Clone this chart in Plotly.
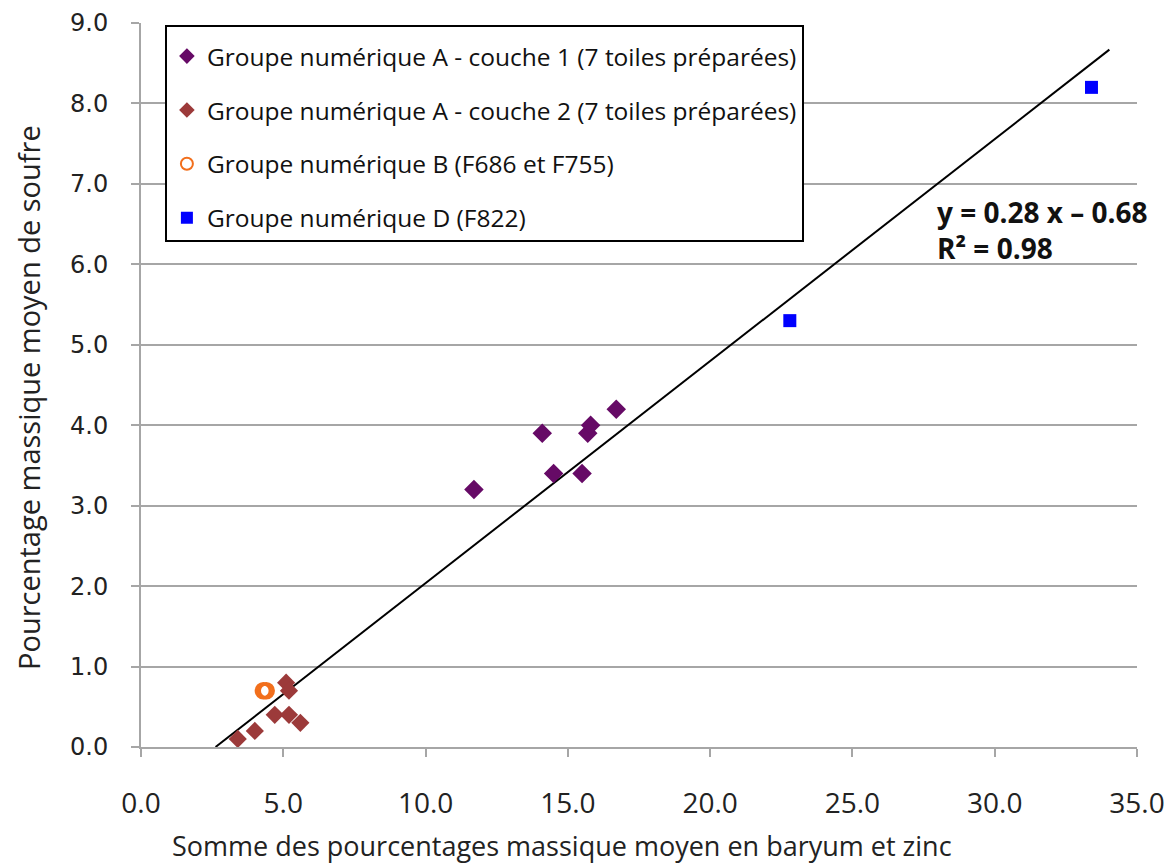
import plotly.graph_objects as go

# ---- data ----
a1_x = [11.7, 14.1, 14.5, 15.5, 15.7, 15.8, 16.7]
a1_y = [3.2, 3.9, 3.4, 3.4, 3.9, 4.0, 4.2]
a2_x = [3.4, 4.0, 4.7, 5.2, 5.6, 5.1, 5.2]
a2_y = [0.1, 0.2, 0.4, 0.4, 0.3, 0.8, 0.7]
b_x = [4.3, 4.4]
b_y = [0.7, 0.7]
d_x = [22.8, 33.4]
d_y = [5.3, 8.2]

trend_slope = 0.276
trend_intercept = -0.723
trend_x = [2.62, 34.03]
trend_y = [trend_slope * v + trend_intercept for v in trend_x]

names = [
    "Groupe numérique A - couche 1 (7 toiles préparées)",
    "Groupe numérique A - couche 2 (7 toiles préparées)",
    "Groupe numérique B (F686 et F755)",
    "Groupe numérique D (F822)",
]
eq_text = "<b>y = 0.28 x – 0.68</b><br><b>R² = 0.98</b>"
x_title = "Somme des pourcentages massique moyen en baryum et zinc"
y_title = "Pourcentage massique moyen de soufre"
x_ticks = [0, 5, 10, 15, 20, 25, 30, 35]
x_ticktext = ["0.0", "5.0", "10.0", "15.0", "20.0", "25.0", "30.0", "35.0"]
y_ticks = list(range(10))
y_ticktext = ["0.0", "1.0", "2.0", "3.0", "4.0", "5.0", "6.0", "7.0", "8.0", "9.0"]

FONT = "Open Sans"

fig = go.Figure()
fig.add_trace(go.Scatter(x=trend_x, y=trend_y, mode="lines",
                         line=dict(color="black", width=2), showlegend=False,
                         hoverinfo="skip"))
fig.add_trace(go.Scatter(x=a1_x, y=a1_y, mode="markers", name=names[0], legendgroup="g1",
                         marker=dict(symbol="diamond", size=15, color="#660a66")))
fig.add_trace(go.Scatter(x=a2_x, y=a2_y, mode="markers", name=names[1], legendgroup="g2",
                         marker=dict(symbol="diamond", size=14, color="#9c3a3a")))
fig.add_trace(go.Scatter(x=b_x, y=b_y, mode="markers", name=names[2], legendgroup="g3",
                         marker=dict(symbol="circle-open", size=14, color="#f26f1c",
                                     line=dict(width=3.5, color="#f26f1c"))))
fig.add_trace(go.Scatter(x=d_x, y=d_y, mode="markers", name=names[3], legendgroup="g4",
                         marker=dict(symbol="square", size=13, color="#0000ff")))

fig.add_annotation(x=27.9, y=6.43, xref="x", yref="y", text=eq_text, showarrow=False,
                   xanchor="left", yanchor="middle", align="left",
                   font=dict(family=FONT, size=28, color="#111"))
# axis titles
fig.add_annotation(x=0.4227, y=-0.1367, xref="paper", yref="paper", text=x_title,
                   showarrow=False, xanchor="center", yanchor="middle",
                   font=dict(family=FONT, size=27, color="#222"))
fig.add_annotation(x=-0.1135, y=0.4834, xref="paper", yref="paper", text=y_title,
                   showarrow=False, xanchor="center", yanchor="middle", textangle=-90,
                   font=dict(family=FONT, size=29, color="#222"))

fig.update_layout(
    width=1168, height=863,
    margin=dict(l=141, r=31, t=23, b=116, autoexpand=False),
    paper_bgcolor="white", plot_bgcolor="white",
    font=dict(family=FONT, color="#222"),
    legend=dict(x=0.024, y=0.997, xanchor="left", yanchor="top",
                bordercolor="black", borderwidth=2, bgcolor="white",
                font=dict(family=FONT, size=24.5, color="#111"),
                title=dict(text=" ", font=dict(size=5)),
                traceorder="grouped", tracegroupgap=19, itemsizing="constant"),
    xaxis=dict(range=[0, 35], tickvals=x_ticks, ticktext=x_ticktext, automargin=False,
               showgrid=False, zeroline=False, showline=True, linecolor="#a6a6a6", linewidth=2,
               ticks="outside", ticklen=8, tickcolor="#a6a6a6", tickwidth=2,
               tickfont=dict(family=FONT, size=28, color="#222"), ticklabelstandoff=22),
    yaxis=dict(range=[0, 9], tickvals=y_ticks, ticktext=y_ticktext, automargin=False,
               showgrid=True, gridcolor="#a6a6a6", gridwidth=1.5, zeroline=False,
               showline=True, linecolor="#a6a6a6", linewidth=2,
               ticks="outside", ticklen=8, tickcolor="#a6a6a6", tickwidth=2,
               tickfont=dict(family="DejaVu Sans", size=24, color="#222"), ticklabelstandoff=18),
)

fig.write_html("out.html", config={"displayModeBar": False},
               post_script="document.body.style.margin='0';document.body.style.overflow='hidden';")
